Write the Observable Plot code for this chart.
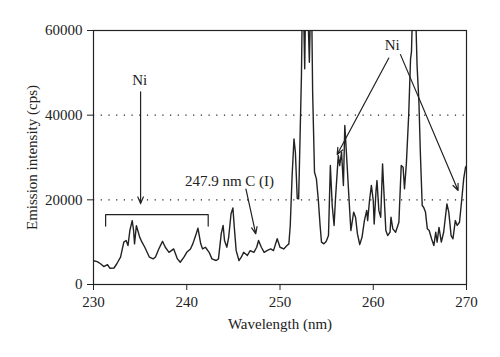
<!DOCTYPE html>
<html>
<head>
<meta charset="utf-8">
<script src="https://cdn.jsdelivr.net/npm/d3@7"></script>
<script src="https://cdn.jsdelivr.net/npm/@observablehq/plot@0.6"></script>
<style>
  html, body { margin: 0; padding: 0; background: #fff; }
  #chart { width: 500px; height: 357px; }
</style>
</head>
<body>
<div id="chart"></div>
<script>
const wavelength = [
  230.0, 230.4, 230.75, 231.1, 231.5, 231.75, 232.2, 232.5, 232.9, 233.25,
  233.5, 233.7, 233.9, 234.15, 234.3, 234.4, 234.6, 234.75, 234.95, 235.2,
  235.5, 235.75, 236.0, 236.4, 236.65, 237.0, 237.4, 237.7, 238.1, 238.6,
  239.0, 239.3, 239.7, 240.0, 240.4, 240.65, 240.9, 241.2, 241.5, 241.7,
  242.0, 242.4, 242.7, 243.15, 243.4, 243.7, 243.9, 244.05, 244.3, 244.5,
  244.75, 244.95, 245.1, 245.3, 245.6, 245.85, 246.1, 246.5, 246.8, 247.2,
  247.5, 247.7, 248.0, 248.3, 248.6, 249.0, 249.3, 249.7, 250.0, 250.4,
  250.75, 250.95, 251.1, 251.3, 251.5, 251.65, 251.85, 252.0, 252.1, 252.3,
  252.4, 252.5, 252.65, 252.75, 252.95, 253.15, 253.3, 253.4, 253.5, 253.7,
  253.9, 254.1, 254.3, 254.45, 254.7, 254.95, 255.2, 255.4, 255.6, 255.8,
  255.95, 256.25, 256.4, 256.6, 256.8, 256.95, 257.2, 257.4, 257.6, 257.9,
  258.1, 258.3, 258.55, 258.8, 259.05, 259.3, 259.4, 259.6, 259.8, 260.0,
  260.1, 260.3, 260.4, 260.6, 260.8, 261.0, 261.1, 261.35, 261.55, 261.8,
  261.9, 262.1, 262.4, 262.75, 263.0, 263.2, 263.35, 263.55, 263.8, 264.0,
  264.1, 264.25, 264.5, 264.7, 264.9, 265.05, 265.25, 265.4, 265.6, 265.8,
  266.0, 266.25, 266.5, 266.7, 266.85, 267.05, 267.3, 267.55, 267.9, 268.1,
  268.35, 268.55, 268.8, 269.0, 269.25, 269.5, 269.7, 269.9, 270.0
];
const intensity = [
  5600, 5400, 4900, 4250, 4700, 3850, 3900, 4900, 6450, 10000,
  10400, 9200, 12750, 15100, 12750, 9600, 13900, 12750, 11200, 10000,
  8800, 7600, 6450, 6050, 6500, 8400, 10200, 8800, 7600, 8400,
  6050, 5250, 6450, 7600, 8400, 9600, 11200, 13300, 9600, 8400,
  8800, 7600, 6050, 5670, 6050, 12000, 13950, 10400, 8800, 11200,
  16700, 18100, 13500, 8000, 5670, 6450, 7600, 6850, 8000, 7600,
  8800, 10400, 8800, 7600, 8000, 8400, 8000, 10800, 8800, 8400,
  9200, 9600, 13950, 25700, 34400, 31250, 20300, 20250, 29700, 49400,
  68000, 68000, 50950, 68000, 68000, 52500, 68000, 65000, 45400, 26500,
  25000, 20250, 13950, 10000, 9600, 10150, 11550, 28100, 18650, 13950,
  20250, 30500, 28100, 31250, 23400, 37550, 28100, 20250, 12750, 17100,
  15900, 12000, 9450, 11200, 15100, 17500, 15100, 19850, 23400, 19850,
  14300, 22200, 24550, 17500, 15900, 28500, 23800, 12750, 11550, 12350,
  15900, 13150, 12350, 14700, 28100, 27700, 22600, 28500, 40000, 53300,
  55000, 68000, 68000, 51700, 43000, 31250, 18650, 18250, 17100, 13150,
  12750, 10800, 9200, 12350, 10000, 13500, 10000, 12350, 19050, 17100,
  11550, 10800, 15100, 13950, 14700, 20250, 25000, 27700, 28000
];

const xTicks = [230, 240, 250, 260, 270];
const yTicks = [0, 20000, 40000, 60000];
const gridValues = [20000, 40000];

// bracket over the Ni region
const bracketX = [231.3, 231.3, 242.3, 242.3];
const bracketY = [13800, 16500, 16500, 13800];

// annotation labels
const labelText = ["Ni", "247.9 nm C (I)", "Ni"];
const labelX = [234.95, 244.58, 262.03];
const labelY = [48200, 24400, 56450];

// annotation arrows
const arrowX1 = [235.05, 246.35, 261.67, 262.92];
const arrowY1 = [45500, 22550, 53500, 54300];
const arrowX2 = [235.05, 247.4, 256.13, 269.1];
const arrowY2 = [19100, 11980, 30700, 22200];

const spectrum = wavelength.map((w, i) => ({w, v: intensity[i]}));
const bracket = bracketX.map((x, i) => ({x, y: bracketY[i]}));
const labels = labelText.map((t, i) => ({t, x: labelX[i], y: labelY[i]}));
const arrows = arrowX1.map((x1, i) => ({x1, y1: arrowY1[i], x2: arrowX2[i], y2: arrowY2[i]}));

const ink = "#222";
const chart = Plot.plot({
  width: 500,
  height: 357,
  marginLeft: 93,
  marginRight: 34,
  marginTop: 30,
  marginBottom: 73,
  style: {fontFamily: "'Liberation Serif', 'DejaVu Serif', serif", fontSize: "15px", color: ink, background: "#fff"},
  x: {domain: [230, 270], ticks: xTicks, tickSize: 6, tickPadding: 6, tickFormat: d => String(d),
      label: "Wavelength (nm)", labelAnchor: "center", labelOffset: 44, labelArrow: "none"},
  y: {domain: [0, 60000], ticks: yTicks, tickSize: 6, tickPadding: 5, tickFormat: d => String(d),
      label: "Emission intensity (cps)", labelAnchor: "center", labelOffset: 67, labelArrow: "none"},
  marks: [
    Plot.ruleY(gridValues, {stroke: ink, strokeWidth: 1.2, strokeDasharray: "1.2,6.5"}),
    Plot.line(spectrum, {x: "w", y: "v", stroke: ink, strokeWidth: 1.4, clip: true}),
    Plot.line(bracket, {x: "x", y: "y", stroke: ink, strokeWidth: 1.2}),
    Plot.arrow(arrows, {x1: "x1", y1: "y1", x2: "x2", y2: "y2", stroke: ink, strokeWidth: 1.2, headLength: 9, headAngle: 45}),
    Plot.text(labels, {x: "x", y: "y", text: "t", fill: ink, fontSize: 15}),
    Plot.frame({stroke: ink, strokeWidth: 1.2})
  ]
});
document.getElementById("chart").appendChild(chart);
</script>
</body>
</html>
